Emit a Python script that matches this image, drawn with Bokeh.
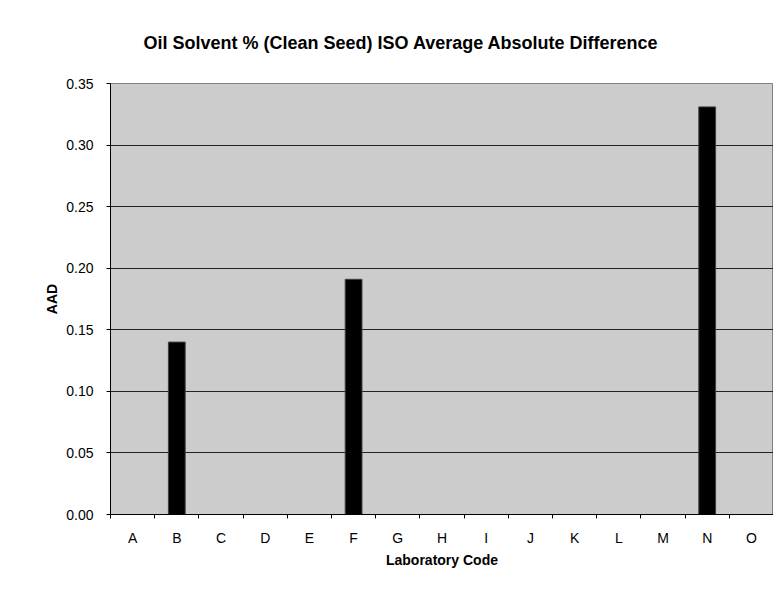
from bokeh.plotting import figure
from bokeh.models import (Range1d, FixedTicker, NumeralTickFormatter,
                          CustomJSTickFormatter, ColumnDataSource, Title)
from bokeh.embed import file_html
from bokeh.resources import INLINE

# ---- data ----
lab_codes = ["A", "B", "C", "D", "E", "F", "G", "H", "I", "J", "K", "L", "M", "N", "O"]
aad_values = [0.0, 0.14, 0.0, 0.0, 0.0, 0.191, 0.0, 0.0, 0.0, 0.0, 0.0, 0.0, 0.0, 0.331, 0.0]
y_tick_values = [0.0, 0.05, 0.10, 0.15, 0.20, 0.25, 0.30, 0.35]
title_text = "Oil Solvent % (Clean Seed) ISO Average Absolute Difference"
x_label = "Laboratory Code"
y_label = "AAD"

FONT = "Liberation Sans"

centers = [i + 0.5 for i in range(len(lab_codes))]
boundaries = list(range(len(lab_codes) + 1))

src = ColumnDataSource(dict(x=centers, top=aad_values, code=lab_codes))

p = figure(width=773, height=584, output_backend="svg", toolbar_location=None,
           x_range=Range1d(0, len(lab_codes)), y_range=Range1d(0, 0.35),
           min_border_left=110, min_border_right=0, min_border_top=83,
           min_border_bottom=70)

p.background_fill_color = "#cccccc"
p.border_fill_color = "white"
p.outline_line_color = "#808080"
p.outline_line_width = 1

p.vbar(x="x", top="top", width=0.38, bottom=0, source=src,
       fill_color="black", line_color="#404040", line_width=1)

# title
p.title = Title(text=title_text, align="left", offset=33, standoff=61,
                text_font=FONT, text_font_size="18px", text_font_style="bold",
                text_color="black")

# y axis
ya = p.yaxis[0]
ya.ticker = FixedTicker(ticks=y_tick_values)
ya.formatter = NumeralTickFormatter(format="0.00")
ya.axis_label = y_label
ya.axis_label_text_font = FONT
ya.axis_label_text_font_size = "14px"
ya.axis_label_text_font_style = "bold"
ya.axis_label_text_color = "black"
ya.axis_label_standoff = 3
ya.major_label_text_font = FONT
ya.major_label_text_font_size = "14px"
ya.major_label_text_color = "black"
ya.major_label_standoff = 13
ya.major_tick_in = 0
ya.major_tick_out = 4
ya.minor_tick_out = 0
ya.minor_tick_in = 0
ya.axis_line_color = "black"
ya.major_tick_line_color = "black"

# x axis: labels at centres, ticks at boundaries
xa = p.xaxis[0]
xa.ticker = FixedTicker(ticks=centers, minor_ticks=boundaries)
xa.formatter = CustomJSTickFormatter(args=dict(cats=lab_codes),
                                     code="return cats[Math.floor(tick)];")
xa.axis_label = x_label
xa.axis_label_text_font = FONT
xa.axis_label_text_font_size = "14px"
xa.axis_label_text_font_style = "bold"
xa.axis_label_text_color = "black"
xa.axis_label_standoff = 3
xa.major_label_text_font = FONT
xa.major_label_text_font_size = "14px"
xa.major_label_text_color = "black"
xa.major_label_standoff = 11
xa.major_tick_in = 0
xa.major_tick_out = 0
xa.minor_tick_in = 0
xa.minor_tick_out = 4
xa.minor_tick_line_color = "black"
xa.axis_line_color = "black"

p.xgrid.grid_line_color = None
p.ygrid.ticker = FixedTicker(ticks=y_tick_values)
p.ygrid.grid_line_color = "#222222"
p.ygrid.grid_line_width = 1

open("out.html", "w").write(file_html(p, INLINE))
